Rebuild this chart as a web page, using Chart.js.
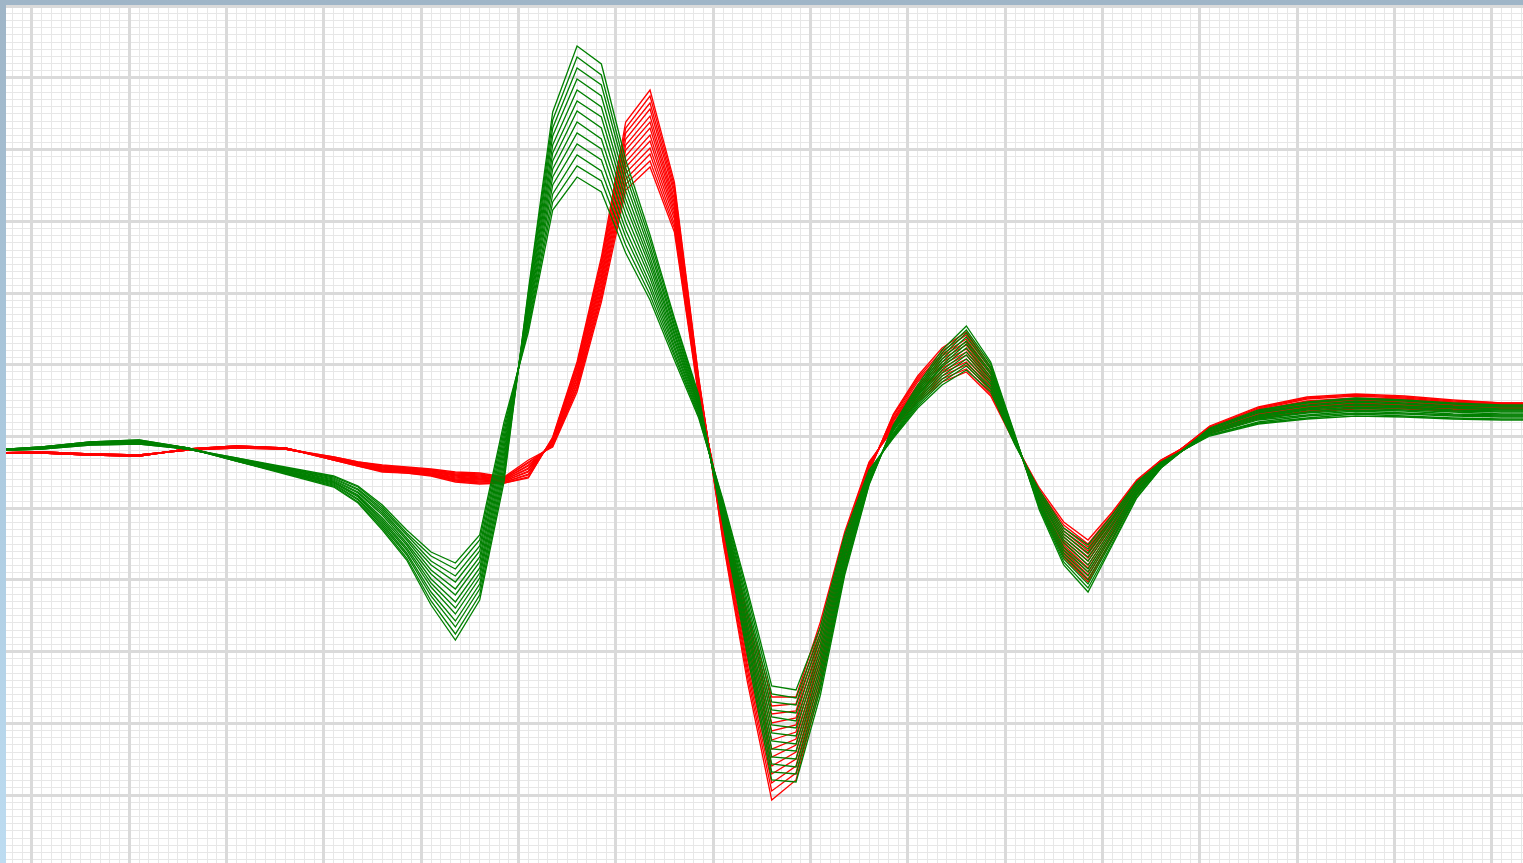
<!DOCTYPE html>
<html>
<head>
<meta charset="utf-8">
<title>ECG beat overlay</title>
<script src="https://cdn.jsdelivr.net/npm/chart.js@4.4.1/dist/chart.umd.min.js"></script>
<style>
    html, body { margin: 0; padding: 0; width: 1523px; height: 863px; overflow: hidden; }
    body { background: linear-gradient(to bottom, #9fb5c7 0%, #abc9de 50%, #bddcf1 100%); }
    #wrap { position: absolute; left: 6px; top: 5px; width: 1517px; height: 858px; background: #fff; }
</style>
</head>
<body>
<div id="wrap"><canvas id="ecg"></canvas></div>
<script>
// sample times in ms (one big grid square = 200 ms)
const sampleTimes = [-80, 20, 120, 220, 320, 420, 520, 620, 670, 720, 770, 820, 870, 920, 970, 1020, 1070, 1120, 1170, 1220, 1270, 1320, 1370, 1420, 1470, 1520, 1570, 1620, 1670, 1720, 1770, 1820, 1870, 1920, 1970, 2020, 2070, 2120, 2170, 2220, 2270, 2320, 2420, 2520, 2620, 2720, 2820, 2920, 3020, 3120];

// lead amplitude per beat (x 0.1 mm), green lead
const greenBeat01 = [0.2, 0.5, 1.0, 1.2, 0.4, -0.9, -2.2, -3.5, -5.1, -7.8, -10.8, -15.3, -18.8, -14.8, -3.0, 16.2, 34.0, 40.6, 38.8, 29.2, 21.7, 13.4, 5.7, -7.3, -20.3, -32.8, -33.0, -24.3, -12.3, -3.3, 2.7, 6.7, 10.2, 12.6, 9.0, 1.7, -5.8, -11.3, -14.0, -9.3, -4.6, -1.6, 2.4, 4.2, 5.0, 5.4, 5.2, 4.9, 4.7, 4.7];
const greenBeat02 = [0.2, 0.5, 1.0, 1.2, 0.4, -0.9, -2.1, -3.4, -5.0, -7.6, -10.6, -14.9, -18.2, -14.3, -2.5, 15.9, 33.2, 39.5, 37.7, 28.4, 21.2, 13.1, 5.5, -7.1, -19.8, -32.0, -32.2, -23.7, -12.0, -3.2, 2.6, 6.5, 9.9, 12.2, 8.8, 1.6, -5.6, -11.0, -13.6, -9.1, -4.5, -1.6, 2.3, 4.1, 4.9, 5.3, 5.1, 4.8, 4.6, 4.6];
const greenBeat03 = [0.2, 0.5, 1.0, 1.1, 0.4, -0.9, -2.1, -3.3, -4.8, -7.4, -10.3, -14.4, -17.5, -13.7, -2.0, 15.5, 32.4, 38.4, 36.7, 27.7, 20.6, 12.7, 5.3, -6.9, -19.2, -31.2, -31.5, -23.2, -11.6, -3.1, 2.5, 6.3, 9.6, 11.9, 8.5, 1.5, -5.5, -10.7, -13.2, -8.8, -4.3, -1.5, 2.3, 4.0, 4.7, 5.1, 4.9, 4.6, 4.5, 4.5];
const greenBeat04 = [0.2, 0.5, 0.9, 1.1, 0.4, -0.8, -2.0, -3.2, -4.7, -7.2, -10.1, -14.0, -16.9, -13.2, -1.5, 15.2, 31.6, 37.3, 35.6, 26.9, 20.1, 12.4, 5.1, -6.7, -18.7, -30.5, -30.7, -22.6, -11.3, -2.9, 2.4, 6.1, 9.3, 11.5, 8.3, 1.5, -5.3, -10.4, -12.8, -8.6, -4.2, -1.5, 2.2, 3.9, 4.6, 5.0, 4.8, 4.5, 4.3, 4.3];
const greenBeat05 = [0.2, 0.4, 0.9, 1.1, 0.4, -0.8, -2.0, -3.1, -4.5, -7.0, -9.8, -13.5, -16.2, -12.6, -1.0, 14.8, 30.7, 36.2, 34.5, 26.1, 19.5, 12.0, 4.9, -6.5, -18.1, -29.7, -29.9, -22.0, -11.0, -2.8, 2.3, 5.9, 9.0, 11.1, 8.0, 1.4, -5.1, -10.1, -12.4, -8.3, -4.1, -1.4, 2.1, 3.7, 4.4, 4.8, 4.6, 4.4, 4.2, 4.2];
const greenBeat06 = [0.2, 0.4, 0.9, 1.0, 0.4, -0.8, -1.9, -3.0, -4.4, -6.8, -9.6, -13.1, -15.6, -12.1, -0.5, 14.5, 29.9, 35.1, 33.5, 25.3, 19.0, 11.7, 4.7, -6.3, -17.6, -28.9, -29.2, -21.5, -10.6, -2.7, 2.2, 5.7, 8.7, 10.8, 7.8, 1.3, -5.0, -9.8, -12.0, -8.1, -3.9, -1.4, 2.1, 3.6, 4.3, 4.7, 4.5, 4.2, 4.1, 4.1];
const greenBeat07 = [0.2, 0.4, 0.9, 1.0, 0.4, -0.8, -1.9, -3.0, -4.3, -6.6, -9.3, -12.7, -15.0, -11.6, 0.0, 14.1, 29.1, 34.1, 32.4, 24.6, 18.5, 11.3, 4.6, -6.1, -17.1, -28.1, -28.4, -20.9, -10.3, -2.6, 2.1, 5.6, 8.5, 10.4, 7.5, 1.2, -4.8, -9.5, -11.7, -7.8, -3.8, -1.3, 2.0, 3.5, 4.2, 4.5, 4.4, 4.1, 4.0, 4.0];
const greenBeat08 = [0.1, 0.4, 0.8, 1.0, 0.3, -0.7, -1.8, -2.9, -4.1, -6.3, -9.1, -12.2, -14.3, -11.0, 0.5, 13.8, 28.3, 33.0, 31.3, 23.8, 17.9, 11.0, 4.4, -5.8, -16.5, -27.3, -27.6, -20.3, -10.0, -2.4, 1.9, 5.4, 8.2, 10.0, 7.3, 1.1, -4.6, -9.1, -11.3, -7.6, -3.7, -1.3, 1.9, 3.4, 4.0, 4.4, 4.2, 4.0, 3.8, 3.8];
const greenBeat09 = [0.1, 0.4, 0.8, 0.9, 0.3, -0.7, -1.7, -2.8, -4.0, -6.1, -8.8, -11.8, -13.7, -10.5, 1.0, 13.4, 27.5, 31.9, 30.3, 23.0, 17.4, 10.6, 4.2, -5.6, -16.0, -26.5, -26.9, -19.8, -9.6, -2.3, 1.8, 5.2, 7.9, 9.7, 7.0, 1.0, -4.5, -8.8, -10.9, -7.3, -3.5, -1.2, 1.9, 3.3, 3.9, 4.2, 4.1, 3.8, 3.7, 3.7];
const greenBeat10 = [0.1, 0.4, 0.8, 0.9, 0.3, -0.7, -1.7, -2.7, -3.8, -5.9, -8.6, -11.3, -13.0, -9.9, 1.5, 13.1, 26.7, 30.8, 29.2, 22.2, 16.8, 10.3, 4.0, -5.4, -15.4, -25.8, -26.1, -19.2, -9.3, -2.2, 1.7, 5.0, 7.6, 9.3, 6.8, 1.0, -4.3, -8.5, -10.5, -7.1, -3.4, -1.2, 1.8, 3.2, 3.7, 4.1, 3.9, 3.7, 3.6, 3.6];
const greenBeat11 = [0.1, 0.3, 0.8, 0.9, 0.3, -0.7, -1.6, -2.6, -3.7, -5.7, -8.3, -10.9, -12.4, -9.4, 2.0, 12.7, 25.8, 29.7, 28.1, 21.5, 16.3, 9.9, 3.8, -5.2, -14.9, -25.0, -25.3, -18.6, -9.0, -2.1, 1.6, 4.8, 7.3, 8.9, 6.5, 0.9, -4.1, -8.2, -10.1, -6.8, -3.3, -1.1, 1.7, 3.0, 3.6, 3.9, 3.8, 3.6, 3.5, 3.5];
const greenBeat12 = [0.1, 0.3, 0.7, 0.8, 0.3, -0.6, -1.6, -2.5, -3.5, -5.5, -8.1, -10.4, -11.7, -8.8, 2.5, 12.4, 25.0, 28.6, 27.1, 20.7, 15.7, 9.6, 3.6, -5.0, -14.3, -24.2, -24.6, -18.1, -8.6, -1.9, 1.5, 4.6, 7.0, 8.6, 6.3, 0.8, -4.0, -7.9, -9.7, -6.6, -3.1, -1.1, 1.7, 2.9, 3.4, 3.8, 3.6, 3.4, 3.3, 3.3];
const greenBeat13 = [0.1, 0.3, 0.7, 0.8, 0.3, -0.6, -1.5, -2.4, -3.4, -5.3, -7.8, -10.0, -11.1, -8.3, 3.0, 12.0, 24.2, 27.5, 26.0, 19.9, 15.2, 9.2, 3.4, -4.8, -13.8, -23.4, -23.8, -17.5, -8.3, -1.8, 1.4, 4.4, 6.7, 8.2, 6.0, 0.7, -3.8, -7.6, -9.3, -6.3, -3.0, -1.0, 1.6, 2.8, 3.3, 3.6, 3.5, 3.3, 3.2, 3.2];

// red lead
const redBeat01 = [-0.1, -0.1, -0.3, -0.4, 0.3, 0.6, 0.4, -0.8, -1.4, -2.0, -2.1, -2.4, -3.0, -3.2, -3.1, -2.6, 1.5, 9.0, 19.5, 33.0, 36.2, 27.0, 7.5, -9.0, -23.0, -34.8, -32.8, -23.5, -12.0, -2.0, 3.8, 7.6, 10.4, 12.0, 8.5, 1.5, -5.5, -10.5, -13.0, -8.8, -4.3, -1.3, 2.6, 4.5, 5.5, 5.8, 5.6, 5.2, 4.9, 4.9];
const redBeat02 = [-0.1, -0.1, -0.3, -0.4, 0.3, 0.6, 0.4, -0.8, -1.4, -1.9, -2.1, -2.3, -2.9, -3.1, -3.1, -2.5, 1.4, 8.8, 19.1, 32.4, 35.6, 26.6, 7.3, -8.8, -22.4, -33.9, -32.1, -23.0, -11.7, -1.9, 3.7, 7.4, 10.1, 11.7, 8.3, 1.4, -5.3, -10.2, -12.7, -8.6, -4.2, -1.3, 2.5, 4.4, 5.4, 5.7, 5.5, 5.1, 4.9, 4.9];
const redBeat03 = [-0.1, -0.1, -0.3, -0.4, 0.3, 0.6, 0.4, -0.8, -1.3, -1.9, -2.0, -2.3, -2.8, -3.0, -3.0, -2.3, 1.3, 8.5, 18.8, 31.9, 34.9, 26.2, 7.2, -8.5, -21.8, -33.1, -31.4, -22.4, -11.3, -1.8, 3.6, 7.2, 9.8, 11.3, 8.0, 1.4, -5.2, -9.9, -12.3, -8.3, -4.1, -1.2, 2.5, 4.3, 5.3, 5.6, 5.4, 5.0, 4.8, 4.8];
const redBeat04 = [-0.1, -0.1, -0.3, -0.4, 0.3, 0.6, 0.4, -0.7, -1.3, -1.8, -2.0, -2.2, -2.8, -2.9, -3.0, -2.2, 1.3, 8.3, 18.4, 31.3, 34.3, 25.8, 7.0, -8.3, -21.3, -32.2, -30.7, -21.9, -11.0, -1.8, 3.4, 7.0, 9.6, 11.0, 7.8, 1.3, -5.0, -9.6, -12.0, -8.1, -3.9, -1.2, 2.4, 4.2, 5.1, 5.4, 5.3, 4.9, 4.8, 4.8];
const redBeat05 = [-0.1, -0.1, -0.3, -0.4, 0.3, 0.5, 0.4, -0.7, -1.3, -1.8, -1.9, -2.2, -2.7, -2.8, -2.9, -2.0, 1.2, 8.0, 18.0, 30.7, 33.6, 25.3, 6.8, -8.0, -20.7, -31.4, -30.0, -21.3, -10.7, -1.7, 3.3, 6.7, 9.3, 10.7, 7.5, 1.3, -4.9, -9.3, -11.6, -7.9, -3.8, -1.1, 2.3, 4.1, 5.0, 5.3, 5.2, 4.8, 4.7, 4.7];
const redBeat06 = [-0.1, -0.1, -0.3, -0.4, 0.3, 0.5, 0.4, -0.7, -1.2, -1.7, -1.9, -2.1, -2.6, -2.7, -2.9, -1.9, 1.1, 7.8, 17.6, 30.2, 33.0, 24.9, 6.7, -7.8, -20.1, -30.5, -29.3, -20.8, -10.3, -1.6, 3.2, 6.5, 9.0, 10.3, 7.3, 1.2, -4.7, -9.0, -11.3, -7.6, -3.7, -1.1, 2.3, 4.0, 4.9, 5.2, 5.1, 4.7, 4.7, 4.7];
const redBeat07 = [-0.1, -0.1, -0.3, -0.4, 0.3, 0.5, 0.4, -0.7, -1.2, -1.7, -1.8, -2.1, -2.5, -2.7, -2.8, -1.7, 1.0, 7.5, 17.3, 29.6, 32.4, 24.5, 6.5, -7.5, -19.5, -29.7, -28.7, -20.3, -10.0, -1.5, 3.1, 6.3, 8.7, 10.0, 7.1, 1.2, -4.6, -8.8, -10.9, -7.4, -3.6, -1.1, 2.2, 3.9, 4.8, 5.1, 5.0, 4.7, 4.6, 4.6];
const redBeat08 = [-0.1, 0.0, -0.2, -0.3, 0.2, 0.5, 0.3, -0.6, -1.2, -1.6, -1.8, -2.0, -2.4, -2.6, -2.8, -1.6, 0.9, 7.3, 16.9, 29.0, 31.7, 24.1, 6.3, -7.3, -18.9, -28.8, -28.0, -19.7, -9.7, -1.4, 2.9, 6.1, 8.4, 9.7, 6.8, 1.1, -4.4, -8.5, -10.6, -7.2, -3.4, -1.0, 2.1, 3.8, 4.6, 4.9, 4.8, 4.6, 4.6, 4.6];
const redBeat09 = [-0.1, 0.0, -0.2, -0.3, 0.2, 0.5, 0.3, -0.6, -1.1, -1.5, -1.7, -1.9, -2.3, -2.5, -2.7, -1.4, 0.8, 7.0, 16.5, 28.5, 31.1, 23.7, 6.2, -7.0, -18.3, -27.9, -27.3, -19.2, -9.3, -1.3, 2.8, 5.9, 8.1, 9.3, 6.6, 1.0, -4.2, -8.2, -10.2, -6.9, -3.3, -1.0, 2.1, 3.7, 4.5, 4.8, 4.7, 4.5, 4.5, 4.5];
const redBeat10 = [-0.1, 0.0, -0.2, -0.3, 0.2, 0.5, 0.3, -0.6, -1.1, -1.5, -1.7, -1.9, -2.3, -2.4, -2.7, -1.3, 0.8, 6.8, 16.1, 27.9, 30.4, 23.3, 6.0, -6.8, -17.8, -27.1, -26.6, -18.6, -9.0, -1.3, 2.7, 5.7, 7.9, 9.0, 6.3, 1.0, -4.1, -7.9, -9.9, -6.7, -3.2, -0.9, 2.0, 3.6, 4.4, 4.7, 4.6, 4.4, 4.5, 4.5];
const redBeat11 = [-0.1, 0.0, -0.2, -0.3, 0.2, 0.4, 0.3, -0.6, -1.1, -1.4, -1.6, -1.8, -2.2, -2.3, -2.6, -1.1, 0.7, 6.5, 15.8, 27.3, 29.8, 22.8, 5.8, -6.5, -17.2, -26.2, -25.9, -18.1, -8.7, -1.2, 2.6, 5.4, 7.6, 8.7, 6.1, 0.9, -3.9, -7.6, -9.5, -6.5, -3.1, -0.9, 1.9, 3.5, 4.3, 4.6, 4.5, 4.3, 4.4, 4.4];
const redBeat12 = [-0.1, 0.0, -0.2, -0.3, 0.2, 0.4, 0.3, -0.5, -1.0, -1.4, -1.6, -1.8, -2.1, -2.2, -2.6, -1.0, 0.6, 6.3, 15.4, 26.8, 29.1, 22.4, 5.7, -6.3, -16.6, -25.4, -25.2, -17.5, -8.3, -1.1, 2.4, 5.2, 7.3, 8.3, 5.8, 0.9, -3.8, -7.3, -9.2, -6.2, -2.9, -0.8, 1.9, 3.4, 4.1, 4.4, 4.4, 4.2, 4.4, 4.4];
const redBeat13 = [-0.1, 0.0, -0.2, -0.3, 0.2, 0.4, 0.3, -0.5, -1.0, -1.3, -1.5, -1.7, -2.0, -2.1, -2.5, -0.8, 0.5, 6.0, 15.0, 26.2, 28.5, 22.0, 5.5, -6.0, -16.0, -24.5, -24.5, -17.0, -8.0, -1.0, 2.3, 5.0, 7.0, 8.0, 5.6, 0.8, -3.6, -7.0, -8.8, -6.0, -2.8, -0.8, 1.8, 3.3, 4.0, 4.3, 4.3, 4.1, 4.3, 4.3];

const greenBeats = [greenBeat01, greenBeat02, greenBeat03, greenBeat04, greenBeat05, greenBeat06, greenBeat07, greenBeat08, greenBeat09, greenBeat10, greenBeat11, greenBeat12, greenBeat13];
const redBeats = [redBeat01, redBeat02, redBeat03, redBeat04, redBeat05, redBeat06, redBeat07, redBeat08, redBeat09, redBeat10, redBeat11, redBeat12, redBeat13];

function toDataset(beat, color) {
    return {
        data: sampleTimes.map((t, i) => ({ x: t, y: beat[i] })),
        borderColor: color,
        borderWidth: 1.3,
        pointRadius: 0,
        tension: 0,
        fill: false
    };
}

// first datasets are painted last, so green ends up on top of red
const datasets = [];
greenBeats.forEach(b => datasets.push(toDataset(b, '#008000')));
redBeats.forEach(b => datasets.push(toDataset(b, '#ff0000')));

// paper grid: big squares 200 ms wide, small ones a tenth of that
const timeMin = -53.4;
const timeMax = 3063.8;

function gridAxis(axis, min, max, step, color, width, z) {
    return {
        type: 'linear',
        axis: axis,
        position: axis === 'x' ? 'bottom' : 'left',
        min: min,
        max: max,
        ticks: { display: false, stepSize: step, includeBounds: false },
        grid: { color: color, lineWidth: width, drawTicks: false, z: z },
        border: { display: false }
    };
}

const ctx = document.getElementById('ecg').getContext('2d');
const ecgChart = new Chart(ctx, {
    type: 'line',
    data: { datasets: datasets },
    options: {
        responsive: true,
        maintainAspectRatio: false,
        animation: false,
        layout: { padding: 0 },
        plugins: {
            legend: { display: false },
            tooltip: { enabled: false }
        },
        scales: {
            x: gridAxis('x', timeMin, timeMax, 200, '#dadada', 3, -1),
            xMinor: gridAxis('x', timeMin, timeMax, 20, '#e7e7e7', 1, -2),
            y: { type: 'linear', display: false, min: -41.1, max: 44.7 },
            yMajor: gridAxis('y', -5.948, 6.018, 1, '#dadada', 3, -1),
            yMinor: gridAxis('y', -5.948, 6.018, 0.1, '#e7e7e7', 1, -2)
        }
    }
});
</script>
</body>
</html>
